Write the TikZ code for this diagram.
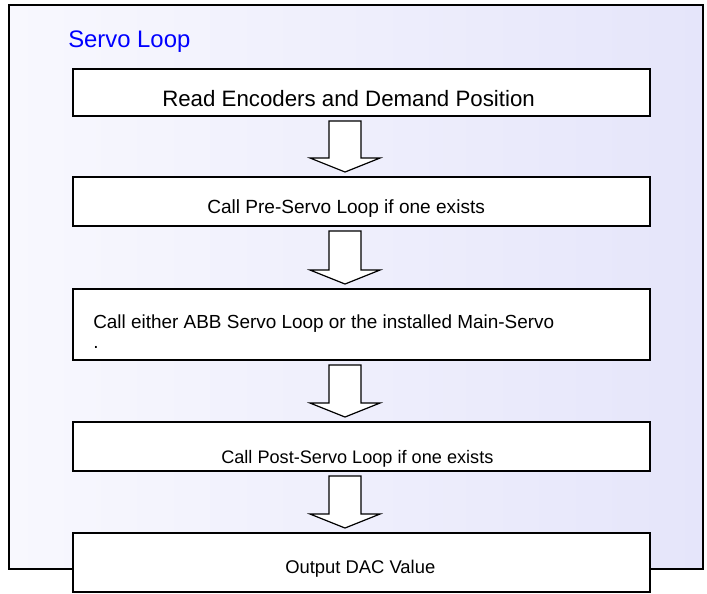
\documentclass[tikz,border=0pt]{standalone}
\usepackage{fontspec}
\setmainfont{Liberation Sans}
\usetikzlibrary{calc}
\definecolor{framelight}{RGB}{248,248,254}
\definecolor{framedark}{RGB}{229,229,250}
\definecolor{titleblue}{RGB}{0,0,255}

\newcommand{\fatarrow}[2]{%
  \draw[arrowline] ($(#1.south)+(-32.5,5)$) -- ($(#1.south)+(-0.5,5)$)
    -- ($(#2.north)+(-0.5,-19)$) -- ($(#2.north)+(18.5,-19)$)
    -- ($(#2.north)+(-16.5,-5)$) -- ($(#2.north)+(-51.5,-19)$)
    -- ($(#2.north)+(-32.5,-19)$) -- cycle;}

\begin{document}
\begin{tikzpicture}[x=0.75pt, y=-0.75pt,
  stepbox/.style={draw, fill=white, line width=1.2pt, inner sep=0pt, outer sep=0pt,
    minimum width=432.75pt},
  steptext/.style={anchor=base west, inner sep=0pt},
  arrowline/.style={draw, fill=white, line width=0.9pt, line join=miter}]
  \useasboundingbox (0,0) rectangle (707,593);
  \draw[line width=1.3pt, left color=framelight, right color=framedark] (9,5) rectangle (703,569);
  \node[steptext, titleblue, font=\fontsize{17.9}{21}\selectfont] (title) at (68,47) {Servo Loop};

  \node[stepbox, minimum height=35.25pt] (read) at (361.5,92.5) {};
  \node[stepbox, minimum height=36.75pt] (pre) at (361.5,201.5) {};
  \node[stepbox, minimum height=53.25pt] (main) at (361.5,324.5) {};
  \node[stepbox, minimum height=36.75pt] (post) at (361.5,446.5) {};
  \node[stepbox, minimum height=44.25pt] (dac) at (361.5,562.5) {};

  \fatarrow{read}{pre}
  \fatarrow{pre}{main}
  \fatarrow{main}{post}
  \fatarrow{post}{dac}

  \node[steptext, font=\fontsize{16.7}{20}\selectfont] (readtext) at (162,106) {Read Encoders and Demand Position};
  \node[steptext, font=\fontsize{14.3}{17}\selectfont] (pretext) at (207,213) {Call Pre-Servo Loop if one exists};
  \node[steptext, align=left, font=\fontsize{14.2}{15}\selectfont] (maintext) at (93,348) {Call either ABB Servo Loop or the installed Main-Servo\\.};
  \node[steptext, font=\fontsize{13.6}{16}\selectfont] (posttext) at (221,463) {Call Post-Servo Loop if one exists};
  \node[steptext, font=\fontsize{13.8}{16}\selectfont] (dactext) at (285,573) {Output DAC Value};
\end{tikzpicture}
\end{document}
